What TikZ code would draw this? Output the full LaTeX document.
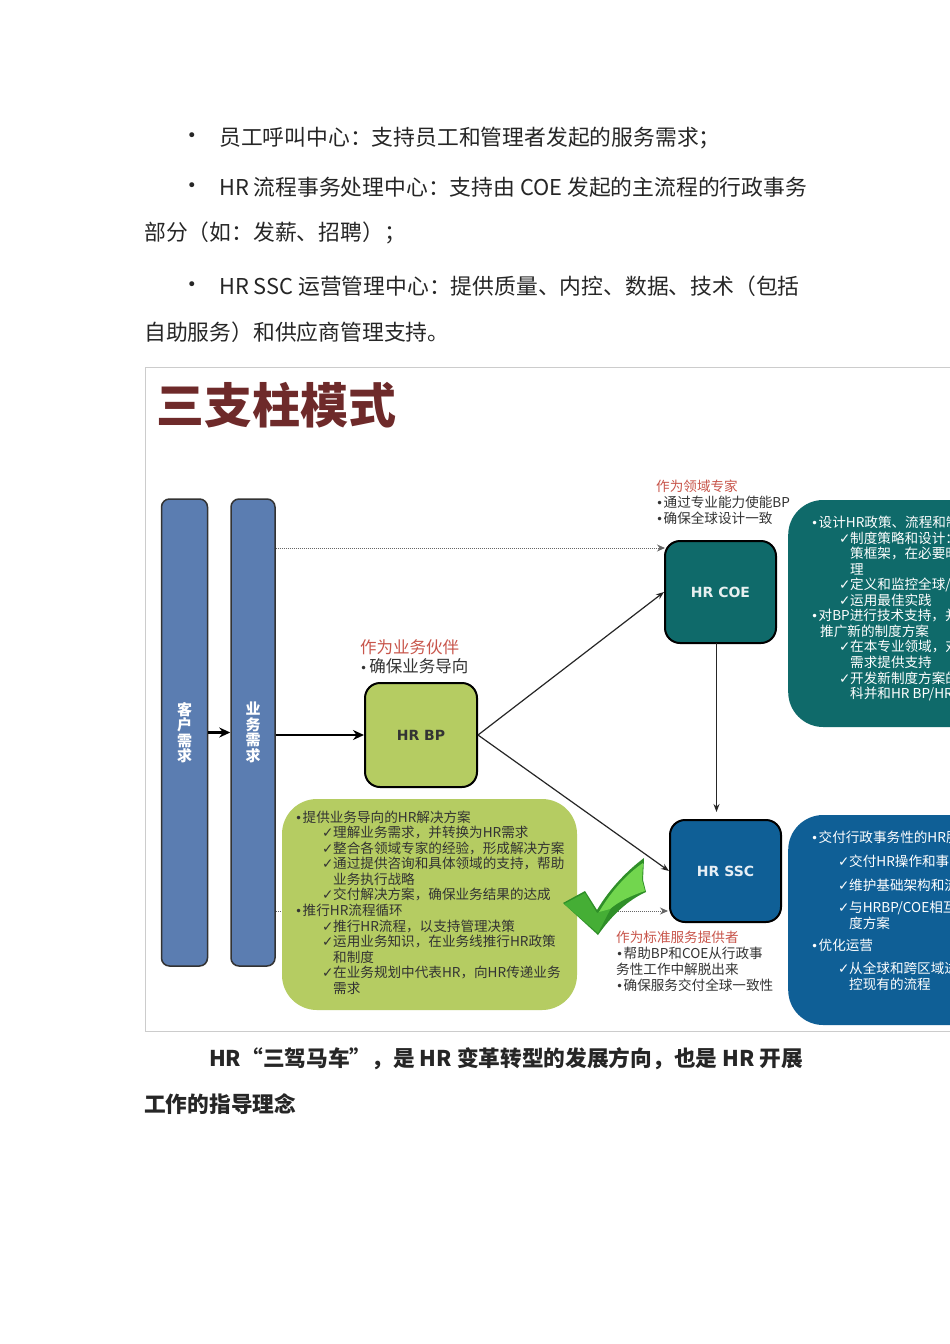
\documentclass[tikz,border=0pt]{standalone}
\usepackage{fontspec}
\setmainfont{Noto Sans CJK SC}
\newfontfamily\symfont{DejaVu Sans}
\usetikzlibrary{positioning, arrows.meta}
\definecolor{pillarblue}{HTML}{5B7DB1}
\definecolor{bpgreen}{HTML}{B5CC62}
\definecolor{coeteal}{HTML}{0F6A6A}
\definecolor{sscblue}{HTML}{0F5F96}
\definecolor{tagred}{HTML}{C8554B}
\definecolor{titlered}{HTML}{6E2A2A}
\definecolor{markdark}{HTML}{2F8F28}
\definecolor{markmid}{HTML}{45AE35}
\definecolor{marklight}{HTML}{72D64E}
\newcommand{\tick}{\makebox[11pt][l]{\symfont ✓}}
\newcommand{\ind}[1]{\hspace*{#1pt}}
\newcommand{\blt}{\makebox[.55em][l]{\fontsize{12}{12}\symfont •}}

\begin{document}
\begin{tikzpicture}[x=1pt,y=-1pt]

	\tikzstyle{body}   = [font=\fontsize{21.8}{26}\selectfont, text=black!85, anchor=west, inner sep=0pt]
	\tikzstyle{bold}   = [font=\fontsize{21.7}{26}\selectfont\bfseries, text=black!85, anchor=west, inner sep=0pt]
	\tikzstyle{pillar} = [draw=black!80, line width=1.5pt, fill=pillarblue, rounded corners=8pt, minimum height=467pt, inner sep=0pt, text=white, align=center, font=\fontsize{15}{15.5}\selectfont\bfseries]
	\tikzstyle{role}   = [draw=black, line width=2pt, rounded corners=15pt, minimum width=111pt, minimum height=102pt, inner sep=0pt, font=\fontsize{14}{17}\symfont\bfseries]
	\tikzstyle{panel}  = [rounded corners=35pt, inner sep=0pt]
	\tikzstyle{list}   = [font=\fontsize{13.6}{15.55}\selectfont, align=left, anchor=west, inner sep=0pt]
	\tikzstyle{tag}    = [font=\fontsize{13.6}{16}\selectfont, align=left, inner sep=0pt, text=black!80]
	\tikzstyle{arrow}  = [-{Stealth[length=8pt,width=6pt]}, black!85, line width=1.2pt]
	\tikzstyle{bigarrow} = [-{Stealth[length=11pt,width=10pt]}, black, line width=2.4pt]
	\tikzstyle{dotarrow} = [-{Stealth[length=8pt,width=7pt]}, densely dotted, black!60, line width=1pt]

	\useasboundingbox (0,0) rectangle (950,1344);
	\clip (0,0) rectangle (950,1344);

	% text above the picture
	\foreach \y/\n in {137/a,187/b,286/c}
		\node[inner sep=0pt, text=black!85, font=\fontsize{17}{17}\symfont] (dot\n) at (192,\y) {•};
	\node[body] (calls)  at (219,138) {员工呼叫中心：支持员工和管理者发起的服务需求；};
	\node[body] (flow)   at (219,187) {HR 流程事务处理中心：支持由 COE 发起的主流程的行政事务};
	\node[body] (flowb)  at (144,233) {部分（如：发薪、招聘）；};
	\node[body] (oper)   at (219,286) {HR SSC 运营管理中心：提供质量、内控、数据、技术（包括};
	\node[body] (operb)  at (144,332) {自助服务）和供应商管理支持。};

	\draw[black!20, fill=white] (145,367) rectangle (1000,1031);
	\node[anchor=west, inner sep=0pt, text=titlered, font=\fontsize{48}{50}\selectfont\bfseries] (title) at (156,405) {三支柱模式};

	\node[pillar, minimum width=46pt] (customer) at (184.5,732.5) {客\\户\\需\\求};
	\node[pillar, minimum width=44pt, right = 22pt of customer] (business) {业\\务\\需\\求};

	\node[role, fill=bpgreen, minimum width=112pt, minimum height=104pt, text=black!80] (bp) at (421,735) {HR BP};
	\node[role, fill=coeteal, text=white!90!coeteal] (coe) at (720.5,592) {HR COE};
	\node[role, fill=sscblue, text=white!90!sscblue] (ssc) at (725.5,871) {HR SSC};

	\coordinate (sscdot) at (668,911);
	\coordinate (coedot) at (665,548);
	\draw[dotarrow] (business.east |- coedot) -- (coedot);
	\draw[dotarrow] (business.east |- sscdot) -- (sscdot);

	\draw[bigarrow] (customer.east |- business.west) -- (business.west);
	\draw[bigarrow] (business.east |- bp.west) -- (bp.west);
	\draw[arrow] (bp.east) -- (coe.west);
	\draw[arrow] (bp.east) -- (ssc.west);
	\coordinate (coeout) at (716.5,643);
	\coordinate (sscin)  at (716.5,812);
	\draw[arrow] (coeout) -- (sscin);

	\node[panel, fill=bpgreen, minimum width=295pt, minimum height=211pt] (bppanel) at (429.5,904.5) {};
	\node[panel, fill=coeteal, minimum width=212pt, minimum height=227pt, anchor=west] (coepanel) at (788,613.5) {};
	\node[panel, fill=sscblue, minimum width=212pt, minimum height=210pt, anchor=west] (sscpanel) at (788,920) {};

	\node[list, text=black!80] (bplist) at (295,902.5) {\blt 提供业务导向的HR解决方案\\
		\ind{27}\tick 理解业务需求，并转换为HR需求\\
		\ind{27}\tick 整合各领域专家的经验，形成解决方案\\
		\ind{27}\tick 通过提供咨询和具体领域的支持，帮助\\
		\ind{38}业务执行战略\\
		\ind{27}\tick 交付解决方案，确保业务结果的达成\\
		\blt 推行HR流程循环\\
		\ind{27}\tick 推行HR流程，以支持管理决策\\
		\ind{27}\tick 运用业务知识，在业务线推行HR政策\\
		\ind{38}和制度\\
		\ind{27}\tick 在业务规划中代表HR，向HR传递业务\\
		\ind{38}需求};

	\node[list, text=white] (coelist) at (811,608.5) {\blt 设计HR政策、流程和制\\
		\ind{28}\tick 制度策略和设计：\\
		\ind{39}策框架，在必要时\\
		\ind{39}理\\
		\ind{28}\tick 定义和监控全球/\\
		\ind{28}\tick 运用最佳实践\\
		\blt 对BP进行技术支持，并\\
		\ind{9}推广新的制度方案\\
		\ind{28}\tick 在本专业领域，对\\
		\ind{39}需求提供支持\\
		\ind{28}\tick 开发新制度方案的\\
		\ind{39}科并和HR BP/HR};

	\node[list, text=white, font=\fontsize{13.6}{16}\selectfont] (ssclist) at (811,911) {\blt 交付行政事务性的HR服\\[8pt]
		\ind{27}\tick 交付HR操作和事\\[8pt]
		\ind{27}\tick 维护基础架构和流\\[6pt]
		\ind{27}\tick 与HRBP/COE相互\\
		\ind{38}度方案\\[6pt]
		\blt 优化运营\\[7pt]
		\ind{27}\tick 从全球和跨区域进\\
		\ind{38}控现有的流程};

	\node[tag, above right = 8pt and -4pt of bp.north west, font=\fontsize{16.5}{18.5}\selectfont] (bptag)
		{\textcolor{tagred}{作为业务伙伴}\\\blt 确保业务导向};
	\node[tag, above right = 15pt and -8pt of coe.north west] (coetag)
		{\textcolor{tagred}{作为领域专家}\\\blt 通过专业能力使能BP\\\blt 确保全球设计一致};
	\node[tag, below right = 8pt and -53pt of ssc.south west] (ssctag)
		{\textcolor{tagred}{作为标准服务提供者}\\\blt 帮助BP和COE从行政事\\务性工作中解脱出来\\\blt 确保服务交付全球一致性};

	% check mark
	\fill[markdark] (563,903) -- (585,891) -- (597,910) .. controls (610,888) and (628,870) .. (644,858) -- (643,880) -- (646,892) .. controls (628,900) and (612,915) .. (598,935) -- cycle;
	\fill[markmid] (564,904) -- (585,893) -- (597,913) -- (612,906) -- (598,933) -- cycle;
	\fill[marklight] (599,912) .. controls (612,890) and (628,873) .. (643,863) -- (642,880) -- (645,891) .. controls (630,896) and (618,902) .. (610,909) -- cycle;

	\node[bold] (slogan)  at (209,1059) {HR“三驾马车”，是 HR 变革转型的发展方向，也是 HR 开展};
	\node[bold] (sloganb) at (144,1104) {工作的指导理念};

\end{tikzpicture}
\end{document}
